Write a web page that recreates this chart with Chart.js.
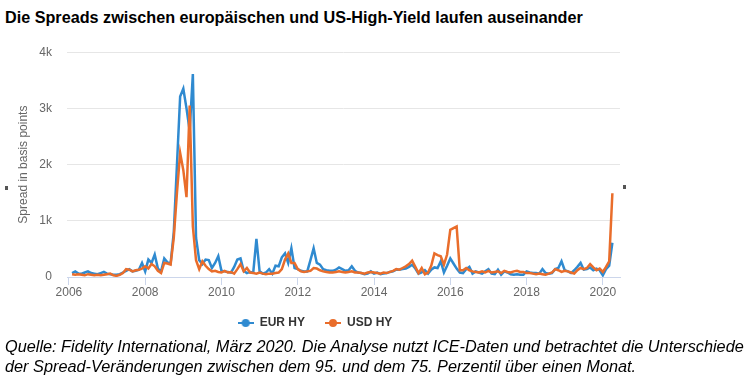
<!DOCTYPE html>
<html><head><meta charset="utf-8">
<script src="https://cdn.jsdelivr.net/npm/chart.js@4.4.1/dist/chart.umd.min.js"></script>
<style>
html,body{margin:0;padding:0;background:#fff;width:750px;height:378px;overflow:hidden;}
#title{position:absolute;left:5px;top:8px;font:bold 16.2px "Liberation Sans",Arial,sans-serif;color:#000;white-space:nowrap;}
#wrap{position:absolute;left:0;top:30px;width:630px;height:309px;}
#foot{position:absolute;left:5px;top:336px;font:italic 16.3px/20px "Liberation Sans",Arial,sans-serif;color:#000;white-space:nowrap;}
.sq{position:absolute;width:3px;height:4px;background:#555;}
</style></head><body>
<div id="title">Die Spreads zwischen europäischen und US-High-Yield laufen auseinander</div>
<div id="wrap"><canvas id="c" width="630" height="309"></canvas></div>
<div class="sq" style="left:5px;top:186px"></div>
<div class="sq" style="left:623px;top:185px"></div>
<div id="foot">Quelle: Fidelity International, März 2020. Die Analyse nutzt ICE-Daten und betrachtet die Unterschiede<br>der Spread-Veränderungen zwischen dem 95. und dem 75. Perzentil über einen Monat.</div>
<script>
// Monthly observations, first one February 2006
const startYear = 2006, startMonth = 2;
const seriesNames = ['EUR HY', 'USD HY'];
const eurHY = [
  70,100,60,60,80,100,70,60,50,70,90,60,
  50,40,40,50,80,110,140,100,110,130,250,100,
  310,250,400,150,100,330,260,240,800,2000,3210,3350,
  3000,2600,3610,700,300,230,310,300,160,250,370,110,
  100,90,80,180,310,330,110,70,90,80,680,100,
  60,80,140,60,200,190,350,420,250,510,160,140,
  110,100,100,300,510,250,220,140,120,110,110,130,
  170,140,110,120,190,110,80,70,50,60,100,60,
  80,50,60,70,90,100,130,130,140,150,180,220,
  150,60,80,120,60,130,170,160,280,80,200,330,
  240,150,80,70,140,180,60,100,80,60,100,140,
  60,50,130,40,100,80,50,40,50,40,40,100,
  80,70,70,60,140,70,60,70,140,160,280,120,
  100,70,120,180,250,130,140,170,120,150,120,30,
  140,200,610
];
const usdHY = [
  50,40,50,40,30,50,40,30,40,30,40,50,
  60,30,20,40,70,140,130,100,120,130,150,190,
  150,230,190,110,70,250,240,220,700,1500,2210,1900,
  1420,3050,900,300,140,280,200,140,100,110,90,80,
  110,80,90,60,140,230,100,160,80,70,60,80,
  60,50,60,60,70,80,140,310,420,250,250,140,
  100,90,100,110,160,150,120,100,90,80,80,90,
  100,90,80,90,100,80,80,70,60,80,90,80,
  70,60,80,70,90,110,140,130,160,190,230,290,
  180,70,160,50,80,200,420,390,370,220,400,840,
  870,900,120,120,160,120,100,90,80,100,80,110,
  80,90,100,70,110,90,80,100,110,90,90,70,
  70,60,50,60,50,40,60,80,140,120,90,110,
  100,80,60,120,160,140,160,230,170,120,150,90,
  180,280,1490
];
const xTicks = [2006, 2008, 2010, 2012, 2014, 2016, 2018, 2020];
const yTicks = [0, 1000, 2000, 3000, 4000];
const yTickLabels = ['0', '1k', '2k', '3k', '4k'];
const colors = ['#2f8ad0', '#e96d2b'];

const dates = eurHY.map((_, i) => startYear + (startMonth - 1 + i) / 12);

Chart.defaults.font.family = '"Liberation Sans", Arial, sans-serif';

function legendSymbol(color) {
  const c = document.createElement('canvas');
  c.width = 16; c.height = 10;
  const g = c.getContext('2d');
  g.strokeStyle = color; g.lineWidth = 2;
  g.beginPath(); g.moveTo(0, 5); g.lineTo(16, 5); g.stroke();
  g.fillStyle = color; g.beginPath(); g.arc(8, 5, 4, 0, Math.PI * 2); g.fill();
  return c;
}
const symbols = colors.map(legendSymbol);

new Chart(document.getElementById('c'), {
  type: 'line',
  data: {
    datasets: [
      { label: seriesNames[0], data: dates.map((x, i) => ({ x, y: eurHY[i] })),
        borderColor: colors[0], backgroundColor: colors[0], borderWidth: 2.5,
        pointRadius: 0, tension: 0, order: 1 },
      { label: seriesNames[1], data: dates.map((x, i) => ({ x, y: usdHY[i] })),
        borderColor: colors[1], backgroundColor: colors[1], borderWidth: 2.5,
        pointRadius: 0, tension: 0, order: 0 }
    ]
  },
  options: {
    responsive: false,
    animation: false,
    layout: { padding: { left: 10, right: 10, top: 19, bottom: 0 } },
    plugins: {
      tooltip: { enabled: false },
      legend: {
        position: 'bottom',
        labels: {
          usePointStyle: true, pointStyleWidth: 16,
          color: '#333', font: { size: 12, weight: 'bold' }, padding: 20,
          sort: (a, b) => a.datasetIndex - b.datasetIndex,
          generateLabels: (chart) => Chart.defaults.plugins.legend.labels.generateLabels(chart)
            .map(l => Object.assign(l, { pointStyle: symbols[l.datasetIndex] }))
        }
      }
    },
    scales: {
      x: {
        type: 'linear', min: 2005.95, max: 2020.45,
        afterBuildTicks: s => { s.ticks = xTicks.map(v => ({ value: v })); },
        afterFit: s => { s.height = 20; },
        ticks: { callback: v => String(v), color: '#666', font: { size: 12 }, maxRotation: 0, autoSkip: false, padding: 0 },
        grid: { drawOnChartArea: false, drawTicks: true, tickLength: 8, color: '#ccd6eb' },
        border: { color: '#ccd6eb' }
      },
      y: {
        min: 0, max: 4000,
        afterBuildTicks: s => { s.ticks = yTicks.map(v => ({ value: v })); },
        afterFit: s => { s.width = 57; },
        ticks: { callback: v => yTickLabels[yTicks.indexOf(v)], color: '#666', font: { size: 12 }, padding: 15 },
        grid: { color: '#e6e6e6', drawTicks: false },
        border: { display: false },
        title: { display: true, text: 'Spread in basis points', color: '#666', font: { size: 12 }, padding: { top: 6, bottom: 0 } }
      }
    }
  }
});
</script>
</body></html>
